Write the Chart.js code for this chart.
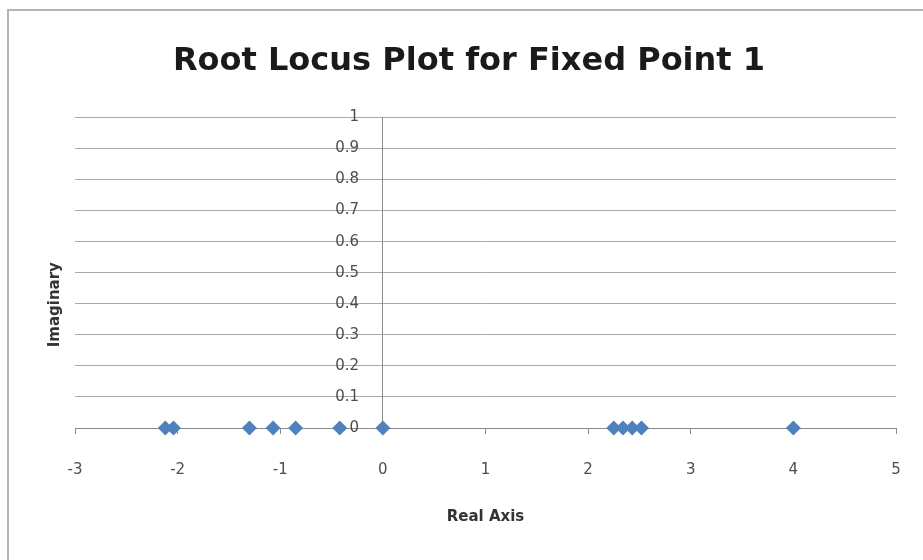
<!DOCTYPE html>
<html>
<head>
<meta charset="utf-8">
<script src="https://cdn.jsdelivr.net/npm/chart.js@4/dist/chart.umd.min.js"></script>
<style>
  html, body { margin: 0; padding: 0; background: #fff; }
  #wrap { position: relative; width: 923px; height: 560px; }
  #frame { position: absolute; left: 7px; top: 9px; right: 0; bottom: 0; border-left: 2px solid #b4b4b4; border-top: 2px solid #b4b4b4; }
  canvas { position: absolute; left: 0; top: 0; }
</style>
</head>
<body>
<div id="wrap">
  <div id="frame"></div>
  <canvas id="rootChart" width="923" height="560"></canvas>
</div>
<script>
// roots on the real axis (imaginary part 0)
const realParts = [-2.12, -2.04, -1.30, -1.07, -0.85, -0.42, 0, 2.25, 2.34, 2.43, 2.52, 4.0];
const imagParts = [0, 0, 0, 0, 0, 0, 0, 0, 0, 0, 0, 0];
const xRange = [-3, 5];
const yRange = [0, 1];

const FONT = '"DejaVu Sans", sans-serif';

// Excel centres the y title a bit lower than the plot middle
const shiftYTitle = {
    id: 'shiftYTitle',
    afterLayout(chart) {
        const s = chart.scales.yTitle;
        if (s) s.bottom += 64;
    }
};

function buildChart() {
    const ctx = document.getElementById('rootChart').getContext('2d');
    const points = realParts.map((x, i) => ({ x: x, y: imagParts[i] }));

    new Chart(ctx, {
        type: 'scatter',
        data: {
            datasets: [{
                label: 'Roots',
                data: points,
                pointStyle: 'rectRot',
                pointRadius: 7.5,
                pointHoverRadius: 7.5,
                backgroundColor: '#4F81BD',
                borderColor: '#4F81BD',
                borderWidth: 0,
                clip: false
            }]
        },
        options: {
            responsive: false,
            animation: false,
            layout: { padding: { left: 42, right: 27, top: 0, bottom: 30 } },
            plugins: {
                legend: { display: false },
                tooltip: { enabled: false },
                title: {
                    display: true,
                    text: 'Root Locus Plot for Fixed Point 1',
                    color: '#1a1a1a',
                    font: { family: FONT, size: 32, weight: 'bold' },
                    padding: { top: 42, bottom: 37 }
                }
            },
            scales: {
                x: {
                    type: 'linear',
                    position: 'bottom',
                    min: xRange[0],
                    max: xRange[1],
                    ticks: {
                        stepSize: 1,
                        color: '#4d4d4d',
                        padding: 9,
                        font: { family: FONT, size: 15 },
                        // empty first line pushes the number down, like Excel
                        callback: v => ['', String(v)]
                    },
                    grid: { drawOnChartArea: false, tickLength: 6, color: '#8a8a8a' },
                    border: { color: '#8a8a8a', width: 1 },
                    title: {
                        display: true,
                        text: 'Real Axis',
                        color: '#333',
                        font: { family: FONT, size: 15, weight: 'bold' },
                        padding: { top: 20, bottom: 4 }
                    }
                },
                y: {
                    type: 'linear',
                    position: { x: 0 },
                    min: yRange[0],
                    max: yRange[1],
                    ticks: {
                        stepSize: 0.1,
                        color: '#4d4d4d',
                        font: { family: FONT, size: 15 },
                        callback: v => String(Number(v.toFixed(1))) + '     '
                    },
                    grid: { color: '#a8a8a8', drawTicks: false },
                    border: { color: '#8a8a8a', width: 1 }
                },
                yTitle: {
                    type: 'linear',
                    position: 'left',
                    axis: 'y',
                    min: 0,
                    max: 1,
                    ticks: { display: false },
                    grid: { display: false, drawTicks: false },
                    border: { display: false },
                    title: {
                        display: true,
                        text: 'Imaginary',
                        color: '#333',
                        font: { family: FONT, size: 15, weight: 'bold' },
                        padding: { top: 4, bottom: 11 }
                    }
                }
            }
        },
        plugins: [shiftYTitle]
    });
}

window.addEventListener('DOMContentLoaded', buildChart);
</script>
</body>
</html>
